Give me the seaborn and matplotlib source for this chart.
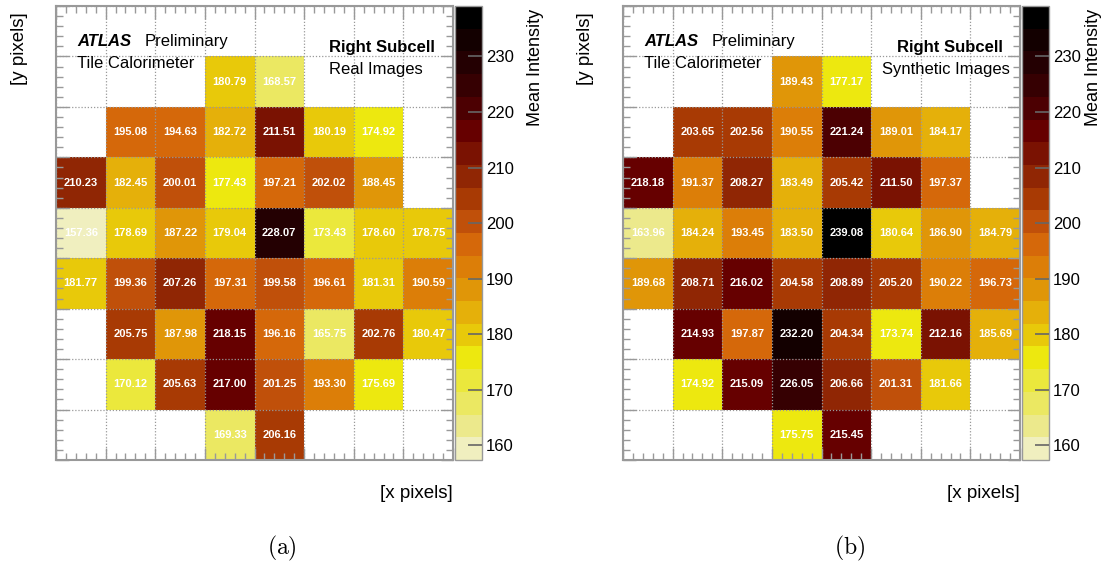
import numpy as np
import pandas as pd
import matplotlib
matplotlib.use("Agg")
import matplotlib.pyplot as plt
import seaborn as sns
from matplotlib.colors import ListedColormap

nan = np.nan

# ---- data (rows top -> bottom, columns left -> right) ----
x_pixels = [0, 1, 2, 3, 4, 5, 6, 7]
y_pixels = [0, 1, 2, 3, 4, 5, 6, 7, 8]

real_images = [
    [nan, nan, nan, nan, nan, nan, nan, nan],
    [nan, nan, nan, 180.79, 168.57, nan, nan, nan],
    [nan, 195.08, 194.63, 182.72, 211.51, 180.19, 174.92, nan],
    [210.23, 182.45, 200.01, 177.43, 197.21, 202.02, 188.45, nan],
    [157.36, 178.69, 187.22, 179.04, 228.07, 173.43, 178.60, 178.75],
    [181.77, 199.36, 207.26, 197.31, 199.58, 196.61, 181.31, 190.59],
    [nan, 205.75, 187.98, 218.15, 196.16, 165.75, 202.76, 180.47],
    [nan, 170.12, 205.63, 217.00, 201.25, 193.30, 175.69, nan],
    [nan, nan, nan, 169.33, 206.16, nan, nan, nan],
]

synthetic_images = [
    [nan, nan, nan, nan, nan, nan, nan, nan],
    [nan, nan, nan, 189.43, 177.17, nan, nan, nan],
    [nan, 203.65, 202.56, 190.55, 221.24, 189.01, 184.17, nan],
    [218.18, 191.37, 208.27, 183.49, 205.42, 211.50, 197.37, nan],
    [163.96, 184.24, 193.45, 183.50, 239.08, 180.64, 186.90, 184.79],
    [189.68, 208.71, 216.02, 204.58, 208.89, 205.20, 190.22, 196.73],
    [nan, 214.93, 197.87, 232.20, 204.34, 173.74, 212.16, 185.69],
    [nan, 174.92, 215.09, 226.05, 206.66, 201.31, 181.66, nan],
    [nan, nan, nan, 175.75, 215.45, nan, nan, nan],
]

vmin, vmax = 157.36, 239.08
cbar_ticks = [160, 170, 180, 190, 200, 210, 220, 230]

band_colors = [
    "#f0efbf", "#ece98c", "#ebe862", "#ebe83c", "#ede80f",
    "#e8c90a", "#e5b00a", "#e09608", "#dc7e08", "#d5680a",
    "#c0500a", "#a83a04", "#902604", "#7a1202", "#660000",
    "#4c0002", "#360002", "#240002", "#130000", "#000000",
]
cmap = ListedColormap(band_colors)

sns.set_theme(style="white")
plt.rcParams["font.family"] = ["Liberation Sans", "DejaVu Sans"]
plt.rcParams["mathtext.fontset"] = "cm"
plt.rcParams["text.color"] = "black"
plt.rcParams["axes.labelcolor"] = "black"

W, H = 1118, 570
fig = plt.figure(figsize=(W / 100, H / 100), dpi=100)
fig.patch.set_facecolor("white")


def rect(x0, y0, x1, y1):
    return [x0 / W, 1 - y1 / H, (x1 - x0) / W, (y1 - y0) / H]


panels = [
    dict(data=real_images, ax=(56, 6, 453, 460), cax=(455, 6, 482, 460),
         sub="Real Images", sub_x=0.688, rs_x=0.688, ylab_x=19, xlab_x=453,
         cl_x=535, tag="(a)", tag_x=282),
    dict(data=synthetic_images, ax=(623, 6, 1020, 460), cax=(1022, 6, 1049, 460),
         sub="Synthetic Images", sub_x=0.652, rs_x=0.690, ylab_x=586, xlab_x=1020,
         cl_x=1093, tag="(b)", tag_x=850),
]

grey = "#999999"
for p in panels:
    ax = fig.add_axes(rect(*p["ax"]))
    cax = fig.add_axes(rect(*p["cax"]))
    df = pd.DataFrame(p["data"], index=y_pixels, columns=x_pixels)
    sns.heatmap(df, ax=ax, cbar_ax=cax, cmap=cmap, vmin=vmin, vmax=vmax,
                annot=True, fmt=".2f",
                annot_kws=dict(color="white", fontsize=8, fontweight="bold"),
                xticklabels=False, yticklabels=False, linewidths=0)
    ax.set_xlabel("")
    ax.set_ylabel("")
    for s in ax.spines.values():
        s.set_visible(True)
        s.set_edgecolor(grey)
        s.set_linewidth(1.5)
    ax.set_xticks(np.arange(0, 9))
    ax.set_yticks(np.arange(0, 10))
    ax.set_xticks(np.arange(0, 8.001, 0.2), minor=True)
    ax.set_yticks(np.arange(0, 9.001, 0.2), minor=True)
    ax.tick_params(which="both", direction="in", top=True, right=True,
                   bottom=True, left=True, color=grey,
                   labelbottom=False, labelleft=False)
    ax.tick_params(which="major", length=9, width=1)
    ax.tick_params(which="minor", length=5, width=1)
    ax.grid(True, which="major", color="#999999", linestyle=(0, (1, 1.5)), lw=0.9)
    ax.set_axisbelow(False)

    # overlay texts
    ax.text(0.053, 0.912, "ATLAS", transform=ax.transAxes, fontsize=12,
            fontweight="bold", style="italic", va="baseline", ha="left")
    ax.text(0.224, 0.912, "Preliminary", transform=ax.transAxes, fontsize=12,
            va="baseline", ha="left")
    ax.text(0.053, 0.863, "Tile Calorimeter", transform=ax.transAxes, fontsize=12,
            va="baseline", ha="left")
    ax.text(p["rs_x"], 0.899, "Right Subcell", transform=ax.transAxes, fontsize=12,
            fontweight="bold", va="baseline", ha="left")
    ax.text(p["sub_x"], 0.850, p["sub"], transform=ax.transAxes, fontsize=12,
            va="baseline", ha="left")

    # colorbar styling
    cbar = ax.collections[0].colorbar
    cbar.set_ticks(cbar_ticks)
    cbar.ax.set_axisbelow(False)
    cbar.ax.tick_params(which="major", direction="in", length=10, width=1.2,
                        color="#666666", labelsize=12, labelcolor="black",
                        right=True, left=False, pad=3)
    cbar.ax.minorticks_off()
    cbar.outline.set_edgecolor(grey)
    cbar.outline.set_linewidth(1.0)

    # axis labels / captions
    fig.text(p["ylab_x"] / W, 1 - 12 / H, "[y pixels]", rotation=90,
             ha="center", va="top", fontsize=13.5)
    fig.text(p["xlab_x"] / W, 1 - 494 / H, "[x pixels]", ha="right",
             va="center", fontsize=13.5)
    fig.text(p["cl_x"] / W, 1 - 9 / H, "Mean Intensity", rotation=90,
             ha="center", va="top", fontsize=13)
    fig.text(p["tag_x"] / W, 1 - 548 / H, r"$\mathrm{" + p["tag"] + "}$",
             ha="center", va="center", fontsize=17)

fig.savefig("out.png", dpi=100, facecolor="white")
